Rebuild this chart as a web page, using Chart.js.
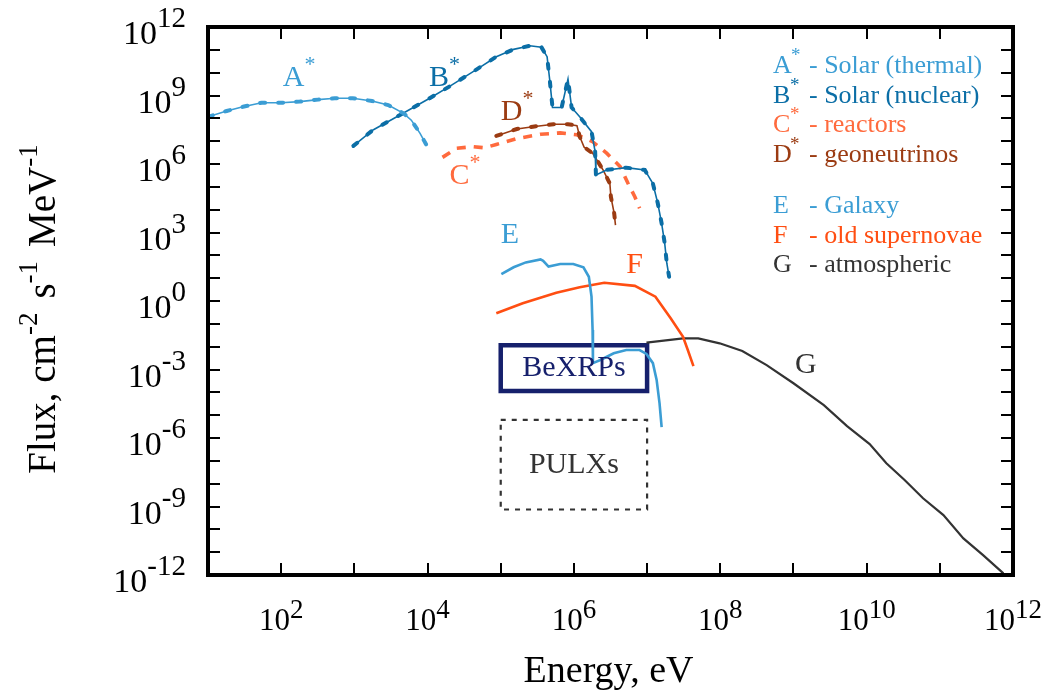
<!DOCTYPE html>
<html>
<head>
<meta charset="utf-8">
<script src="https://cdn.jsdelivr.net/npm/chart.js@4.4.1/dist/chart.umd.min.js"></script>
<style>
  html, body { margin: 0; padding: 0; background: #fff; }
  #wrap { width: 1052px; height: 692px; }
</style>
</head>
<body>
<div id="wrap"><canvas id="fluxChart"></canvas></div>
<script>
// energy in eV, flux in cm^-2 s^-1 MeV^-1
var solarThermalE    = [1e1, 1.8e1, 3.0e1, 5.4e1, 1.0e2, 1.8e2, 3.2e2, 5.4e2, 9.5e2, 1.74e3, 2.9e3, 4.7e3, 6.0e3, 7.9e3, 9.8e3];
var solarThermalFlux = [1.17e8, 2.1e8, 3.2e8, 4.8e8, 4.8e8, 5.4e8, 6.6e8, 7.6e8, 7.6e8, 5.75e8, 3.8e8, 1.66e8, 8.3e7, 2.2e7, 6.2e6];

var solarNuclearE    = [9.7e2, 1.8e3, 4.2e3, 1.07e4, 2.0e4, 4.7e4, 8.7e4, 1.5e5, 2.5e5, 3.6e5, 4.3e5, 4.7e5, 5.1e5, 6.8e5, 8.3e5, 9.3e5,
                        1.2e6, 1.74e6, 1.95e6, 2.0e6, 2.8e6, 5.2e6, 9.3e6, 1.2e7, 1.4e7, 1.58e7, 1.74e7, 1.86e7, 2.0e7];
var solarNuclearFlux = [6.2e6, 3.1e7, 1.4e8, 7.6e8, 2.5e9, 1.4e10, 5.0e10, 1.05e11, 1.5e11, 1.3e11, 5.0e10, 4.0e9, 3.0e8, 3.0e8, 5.2e9, 3.0e8,
                        1.17e8, 2.6e7, 3.5e6, 3.3e5, 5.5e5, 6.9e5, 5.5e5, 1.4e5, 1.9e4, 2.5e3, 3.4e2, 4.5e1, 1.15e1];

var reactorE    = [1.6e4, 2.5e4, 4.2e4, 6.0e4, 8.7e4, 1.66e5, 3.5e5, 6.5e5, 1.1e6, 1.8e6, 2.8e6, 4.3e6, 5.5e6, 6.8e6, 7.9e6];
var reactorFlux = [1.95e6, 4.9e6, 5.75e6, 5.1e6, 7.2e6, 1.3e7, 2.0e7, 2.3e7, 1.9e7, 9.5e6, 3.0e6, 7.6e5, 1.4e5, 3.7e4, 1.15e4];

var geoE    = [8.7e4, 1.66e5, 2.75e5, 5.25e5, 8.3e5, 1.1e6, 1.2e6, 1.38e6, 1.8e6, 2.5e6, 3.1e6, 3.2e6, 3.55e6, 3.7e6];
var geoFlux = [1.7e7, 3.4e7, 4.3e7, 5.5e7, 5.5e7, 4.8e7, 1.6e7, 5.4e6, 3.0e6, 5.5e5, 1.4e5, 3.7e4, 6.9e3, 2.1e3];

var galaxyE    = [1.02e5, 1.5e5, 2.2e5, 3.5e5, 3.8e5, 4.5e5, 6.5e5, 9.8e5, 1.35e6, 1.6e6, 1.74e6, 1.8e6, 1.82e6,
                  2.3e6, 3.5e6, 5.2e6, 7.9e6, 9.8e6, 1.2e7, 1.35e7, 1.48e7, 1.58e7];
var galaxyFlux = [15, 30, 49, 66, 57.5, 32, 42, 42, 30, 11.5, 1.55, 5.4e-2, 1.9e-3,
                  2.6e-3, 5.1e-3, 7.1e-3, 7.1e-3, 4.8e-3, 1.9e-3, 3.5e-4, 3.3e-5, 3.0e-6];

var supernovaE    = [8.7e4, 2.0e5, 5.75e5, 1.2e6, 2.6e6, 6.8e6, 1.3e7, 2.1e7, 3.1e7, 3.6e7, 4.3e7];
var supernovaFlux = [0.29, 0.79, 2.3, 4.0, 6.3, 4.6, 1.55, 0.174, 2.7e-2, 7.1e-3, 1.4e-3];

var atmosphericE    = [9.8e6, 3.1e7, 5.0e7, 9.8e7, 2.0e8, 4.3e8, 1.0e9, 2.6e9, 5.4e9, 1.1e10, 1.86e10, 3.3e10, 5.9e10,
                       1.12e11, 2.1e11, 3.9e11, 7.4e11];
var atmosphericFlux = [1.5e-2, 2.3e-2, 2.3e-2, 1.4e-2, 6.5e-3, 1.55e-3, 2.5e-4, 2.75e-5, 3.3e-6, 5.4e-7, 7.8e-8, 1.45e-8, 2.3e-9,
                       4.2e-10, 4.0e-11, 7.4e-12, 1.17e-12];

// source regions: energy range and flux range
var bexrpE    = [1e5, 1e7];
var bexrpFlux = [1.15e-4, 1.15e-2];
var pulxE     = [1e5, 1e7];
var pulxFlux  = [7.4e-10, 6.2e-6];

var xTickExps = [2, 4, 6, 8, 10, 12];
var yTickExps = [-12, -9, -6, -3, 0, 3, 6, 9, 12];

var lightBlue = '#3b9dd4';
var darkBlue  = '#0b6ea6';
var reactorCol = '#ff6a3d';
var geoCol    = '#9b3b12';
var snCol     = '#ff4e12';
var atmCol    = '#333333';
var navy      = '#16206c';

var SERIF = '"Liberation Serif", "Times New Roman", serif';

var legendEntries = [
  { key: 'A', star: true,  text: '- Solar (thermal)', color: lightBlue },
  { key: 'B', star: true,  text: '- Solar (nuclear)', color: darkBlue },
  { key: 'C', star: true,  text: '- reactors',        color: reactorCol },
  { key: 'D', star: true,  text: '- geoneutrinos',    color: geoCol },
  { key: 'E', star: false, text: '- Galaxy',          color: lightBlue },
  { key: 'F', star: false, text: '- old supernovae',  color: snCol },
  { key: 'G', star: false, text: '- atmospheric',     color: atmCol }
];

function toPoints(xs, ys) {
  return xs.map(function (x, i) { return { x: x, y: ys[i] }; });
}

function boxPoints(xr, yr) {
  return [
    { x: xr[0], y: yr[1] }, { x: xr[1], y: yr[1] },
    { x: xr[1], y: yr[0] }, { x: xr[0], y: yr[0] },
    { x: xr[0], y: yr[1] }
  ];
}

function thinLine(data, color, width) {
  return { data: data, showLine: true, pointRadius: 0, borderColor: color, borderWidth: width, fill: false };
}

// thick beads laid over a thin line
function beads(data, color) {
  return { data: data, showLine: true, pointRadius: 0, borderColor: color, borderWidth: 4,
           borderDash: [5, 13], borderCapStyle: 'round', fill: false };
}

// draw a run of text pieces, each with its own font and vertical shift
function drawRuns(ctx, runs, x, y, align) {
  var total = 0;
  runs.forEach(function (r) { ctx.font = r.font; r.w = ctx.measureText(r.text).width + (r.gap || 0); total += r.w; });
  var cx = align === 'right' ? x - total : (align === 'center' ? x - total / 2 : x);
  runs.forEach(function (r) {
    ctx.font = r.font;
    ctx.fillText(r.text, cx, y - (r.raise || 0));
    cx += r.w;
  });
}

var framePlugin = {
  id: 'frame',
  afterDraw: function (chart) {
    var ctx = chart.ctx, a = chart.chartArea;
    var xs = chart.scales.x, ys = chart.scales.y;
    ctx.save();
    ctx.textAlign = 'left';
    ctx.textBaseline = 'alphabetic';

    // decade tick marks on all four sides, pointing inward
    ctx.strokeStyle = '#000';
    ctx.lineWidth = 2;
    ctx.beginPath();
    for (var e = 2; e <= 11; e++) {
      var px = Math.round(xs.getPixelForValue(Math.pow(10, e)));
      ctx.moveTo(px, a.bottom); ctx.lineTo(px, a.bottom - 12);
      ctx.moveTo(px, a.top); ctx.lineTo(px, a.top + 12);
    }
    for (var k = -11; k <= 11; k++) {
      var py = Math.round(ys.getPixelForValue(Math.pow(10, k)));
      ctx.moveTo(a.left, py); ctx.lineTo(a.left + 12, py);
      ctx.moveTo(a.right, py); ctx.lineTo(a.right - 12, py);
    }
    ctx.stroke();

    ctx.lineWidth = 4;
    ctx.strokeRect(a.left, a.top, a.right - a.left, a.bottom - a.top);

    // tick labels
    ctx.fillStyle = '#000';
    xTickExps.forEach(function (n) {
      var px = xs.getPixelForValue(Math.pow(10, n));
      drawRuns(ctx, [
        { text: '10', font: '31px ' + SERIF },
        { text: String(n), font: '27px ' + SERIF, raise: 12 }
      ], px, a.bottom + 55, 'center');
    });
    yTickExps.forEach(function (n) {
      var py = ys.getPixelForValue(Math.pow(10, n));
      drawRuns(ctx, [
        { text: '10', font: '34px ' + SERIF },
        { text: String(n), font: '29px ' + SERIF, raise: 17 }
      ], a.left - 22, py + 17, 'right');
    });

    // axis titles
    drawRuns(ctx, [{ text: 'Energy, eV', font: '38px ' + SERIF }], (a.left + a.right) / 2 - 2, a.bottom + 107, 'center');
    ctx.save();
    ctx.translate(55, 309);
    ctx.rotate(-Math.PI / 2);
    var big = '39px ' + SERIF, sup = '27px ' + SERIF;
    drawRuns(ctx, [
      { text: 'Flux, cm', font: big },
      { text: '-2', font: sup, raise: 18, gap: 14 },
      { text: 's', font: big },
      { text: '-1', font: sup, raise: 18, gap: 14 },
      { text: 'MeV', font: big },
      { text: '-1', font: sup, raise: 18 }
    ], 0, 0, 'center');
    ctx.restore();

    // curve labels
    var curveLabels = [
      { key: 'A', star: true,  color: lightBlue,  x: 1.05e2, y: 2.5e9 },
      { key: 'B', star: true,  color: darkBlue,   x: 1.05e4, y: 2.5e9 },
      { key: 'D', star: true,  color: geoCol,     x: 1.0e5,  y: 8.5e7 },
      { key: 'C', star: true,  color: reactorCol, x: 2.0e4,  y: 1.3e5 },
      { key: 'E', star: false, color: lightBlue,  x: 1.0e5,  y: 3.5e2 },
      { key: 'F', star: false, color: snCol,      x: 5.2e6,  y: 17 },
      { key: 'G', star: false, color: atmCol,     x: 1.05e9, y: 6.8e-4 }
    ];
    curveLabels.forEach(function (l) {
      ctx.fillStyle = l.color;
      var runs = [{ text: l.key, font: '30px ' + SERIF }];
      if (l.star) runs.push({ text: '*', font: '22px ' + SERIF, raise: 15, gap: 0 });
      drawRuns(ctx, runs, xs.getPixelForValue(l.x), ys.getPixelForValue(l.y), 'left');
    });

    // source box labels
    ctx.fillStyle = navy;
    drawRuns(ctx, [{ text: 'BeXRPs', font: '30px ' + SERIF }], xs.getPixelForValue(1e6), ys.getPixelForValue(5e-4), 'center');
    ctx.fillStyle = '#333';
    drawRuns(ctx, [{ text: 'PULXs', font: '30px ' + SERIF }], xs.getPixelForValue(1e6), ys.getPixelForValue(3e-8), 'center');

    // legend
    var ly = a.top + 46;
    legendEntries.forEach(function (en, i) {
      if (i === 4) ly += 21;
      ctx.fillStyle = en.color;
      ctx.font = '26px ' + SERIF;
      ctx.fillText(en.key, a.left + 565, ly);
      if (en.star) {
        ctx.font = '19px ' + SERIF;
        ctx.fillText('*', a.left + 566 + (en.key === 'A' ? 17 : 16), ly - 12);
      }
      ctx.font = '26px ' + SERIF;
      ctx.fillText(en.text, a.left + 601, ly);
      ly += 29.7;
    });

    ctx.restore();
  }
};

var ctxFlux = document.getElementById('fluxChart').getContext('2d');
var fluxChart = new Chart(ctxFlux, {
  type: 'scatter',
  data: {
    datasets: [
      beads(toPoints(solarThermalE, solarThermalFlux), lightBlue),
      thinLine(toPoints(solarThermalE, solarThermalFlux), lightBlue, 1.6),
      beads(toPoints(solarNuclearE, solarNuclearFlux), darkBlue),
      thinLine(toPoints(solarNuclearE, solarNuclearFlux), darkBlue, 1.6),
      beads(toPoints(geoE, geoFlux), geoCol),
      thinLine(toPoints(geoE, geoFlux), geoCol, 1.6),
      { data: toPoints(reactorE, reactorFlux), showLine: true, pointRadius: 0, borderColor: reactorCol,
        borderWidth: 3.6, borderDash: [9, 8], fill: false },
      thinLine(toPoints(galaxyE, galaxyFlux), lightBlue, 2.6),
      thinLine(toPoints(supernovaE, supernovaFlux), snCol, 2.6),
      thinLine(toPoints(atmosphericE, atmosphericFlux), atmCol, 2.2),
      { data: boxPoints(bexrpE, bexrpFlux), showLine: true, pointRadius: 0, borderColor: navy,
        borderWidth: 4.5, borderCapStyle: 'square', borderJoinStyle: 'miter', fill: false },
      { data: boxPoints(pulxE, pulxFlux), showLine: true, pointRadius: 0, borderColor: '#333',
        borderWidth: 2.2, borderDash: [5, 6], fill: false }
    ]
  },
  options: {
    responsive: true,
    maintainAspectRatio: false,
    animation: false,
    layout: { padding: { left: 208, top: 27, right: 39, bottom: 117 } },
    plugins: { legend: { display: false }, tooltip: { enabled: false } },
    scales: {
      x: { type: 'logarithmic', display: false, min: 1e1, max: 1e12 },
      y: { type: 'logarithmic', display: false, min: 1e-12, max: 1e12 }
    }
  },
  plugins: [framePlugin]
});
</script>
</body>
</html>
